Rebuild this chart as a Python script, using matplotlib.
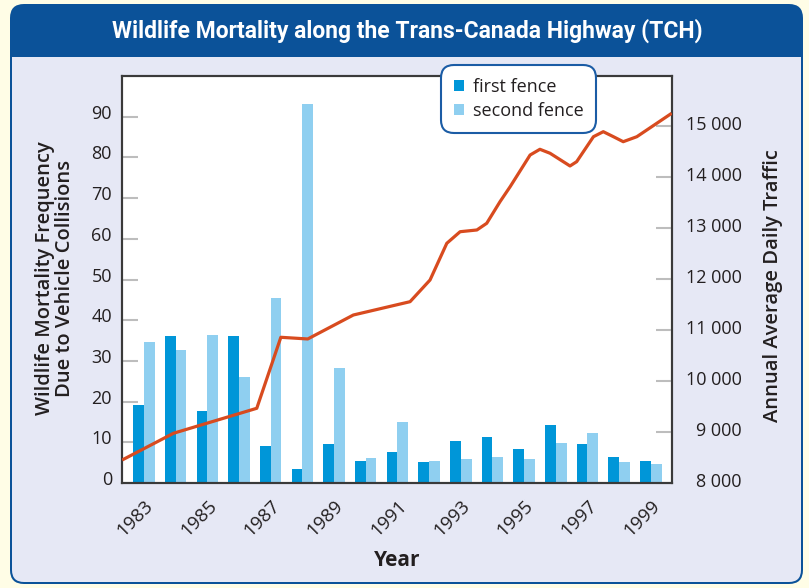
import matplotlib
matplotlib.use("Agg")
import matplotlib.pyplot as plt
from matplotlib.patches import FancyBboxPatch, Rectangle, Patch
from matplotlib.transforms import ScaledTranslation

# ---------------- data ----------------
years = list(range(1983, 2000))
first_fence = [19.2, 36.1, 17.7, 36.1, 9.1, 3.4, 9.6, 5.4, 7.6, 5.2,
               10.3, 11.3, 8.4, 14.3, 9.6, 6.4, 5.4]
second_fence = [34.6, 32.7, 36.4, 26.0, 45.5, 93.1, 28.3, 6.1, 15.0, 5.4,
                5.9, 6.4, 5.9, 9.8, 12.3, 5.2, 4.7]

traffic_year = [1982.31, 1983.93, 1986.56, 1987.32, 1988.17, 1989.61, 1991.40,
                1992.03, 1992.56, 1992.98, 1993.51, 1993.82, 1994.24, 1994.56,
                1995.19, 1995.50, 1995.82, 1996.45, 1996.66, 1997.19, 1997.50,
                1997.82, 1998.13, 1998.56, 1999.66]
traffic_aadt = [8451, 8975, 9465, 10857, 10824, 11294, 11555,
                11980, 12700, 12927, 12961, 13092, 13516, 13810,
                14431, 14543, 14465, 14216, 14300, 14790, 14888,
                14790, 14692, 14790, 15249]

left_ticks = [0, 10, 20, 30, 40, 50, 60, 70, 80, 90]
right_ticks = [8000, 9000, 10000, 11000, 12000, 13000, 14000, 15000]
right_tick_labels = ["8 000", "9 000", "10 000", "11 000", "12 000",
                     "13 000", "14 000", "15 000"]
xtick_years = [1983, 1985, 1987, 1989, 1991, 1993, 1995, 1997, 1999]
series_names = ["first fence", "second fence"]

title = "Wildlife Mortality along the Trans-Canada Highway (TCH)"
left_label = "Wildlife Mortality Frequency\nDue to Vehicle Collisions"
right_label = "Annual Average Daily Traffic"
x_label = "Year"

# ---------------- style ----------------
C_FIRST = "#0096D8"
C_SECOND = "#8FCFF0"
C_LINE = "#D84B1F"
C_BLUE = "#0B5299"
C_PANEL = "#E6E8F5"
C_OUTER = "#FFFDE6"
C_TEXT = "#231F20"
C_TICK = "#BDBDBD"
C_SPINE = "#3A3A3A"
FONT = ["Open Sans", "DejaVu Sans"]

W, H = 809, 588
fig = plt.figure(figsize=(W / 100, H / 100), dpi=100, facecolor=C_OUTER)

def px(x, y):
    return x / W, 1 - y / H

# panel background (inches, origin bottom-left)
t = fig.dpi_scale_trans
outer = FancyBboxPatch((0.10, 0.04), 7.93, 5.80,
                       boxstyle="round,pad=0,rounding_size=0.14",
                       fc=C_BLUE, ec=C_BLUE, lw=0, transform=t, zorder=-10)
inner = FancyBboxPatch((0.12, 0.06), 7.89, 5.42,
                       boxstyle="round,pad=0,rounding_size=0.12",
                       fc=C_PANEL, ec="none", lw=0, transform=t, zorder=-9)
bar_rect = Rectangle((0.10, 5.31), 7.93, 0.25, fc=C_BLUE, ec="none",
                     transform=t, zorder=-8)
for p in (outer, inner, bar_rect):
    fig.add_artist(p)

fig.text(*px(407, 31), title, ha="center", va="center", color="white",
         fontsize=16.5, fontweight="bold", family=["Roboto", "DejaVu Sans"])

# ---------------- axes ----------------
l, r, b, tp = 122, 672, 483, 76
ax = fig.add_axes([l / W, 1 - b / H, (r - l) / W, (b - tp) / H])
ax.set_facecolor("white")
ax2 = ax.twinx()

bw = 0.34
ax.bar([y - bw / 2 for y in years], first_fence, width=bw, color=C_FIRST,
       linewidth=0, zorder=2)
ax.bar([y + bw / 2 for y in years], second_fence, width=bw, color=C_SECOND,
       linewidth=0, zorder=2)
ax.set_xlim(1982.305, 1999.67)
ax.set_ylim(0, 100)
ax.set_yticks(left_ticks)
ax.set_yticklabels([str(v) for v in left_ticks], family=FONT, fontsize=13,
                   color=C_TEXT)
ax.set_xticks(xtick_years)
ax.set_xticklabels([str(v) for v in xtick_years], family=FONT, fontsize=13.5,
                   color=C_TEXT, rotation=45, ha="right", va="top",
                   rotation_mode="anchor")
ax.tick_params(axis="x", length=0, pad=10)
ax.tick_params(axis="y", direction="in", length=11.5, width=1.5,
               color=C_TICK, pad=7.2)

ax2.plot(traffic_year, traffic_aadt, color=C_LINE, lw=2.3,
         solid_joinstyle="round", solid_capstyle="butt", zorder=3)
ax2.set_ylim(8000, 15980)
ax2.set_yticks(right_ticks)
ax2.set_yticklabels(right_tick_labels, family=FONT, fontsize=13, color=C_TEXT)
ax2.tick_params(axis="y", direction="in", length=11.5, width=1.5,
                color=C_TICK, pad=50.4)
for lbl in ax2.get_yticklabels():
    lbl.set_horizontalalignment("right")
    lbl.set_transform(lbl.get_transform() +
                      ScaledTranslation(0, 0.03, fig.dpi_scale_trans))
for lbl in ax.get_yticklabels():
    lbl.set_transform(lbl.get_transform() +
                      ScaledTranslation(0, 0.05, fig.dpi_scale_trans))

for a in (ax, ax2):
    for s in a.spines.values():
        s.set_color(C_SPINE)
        s.set_linewidth(1.5)

# axis titles
fig.text(*px(55, 278), left_label, rotation=90, ha="center", va="center",
         multialignment="center", fontsize=14.5, fontweight="semibold",
         color=C_TEXT, family=FONT, linespacing=1.05)
fig.text(*px(773, 285.5), right_label, rotation=90, ha="center", va="center",
         fontsize=14.5, fontweight="semibold", color=C_TEXT, family=FONT)
fig.text(*px(397, 560), x_label, ha="center", va="center", fontsize=15,
         fontweight="bold", color=C_TEXT, family=FONT)

# legend
handles = [Patch(facecolor=C_FIRST, edgecolor="none"),
           Patch(facecolor=C_SECOND, edgecolor="none")]
leg = fig.legend(handles, series_names, loc="upper left",
                 bbox_to_anchor=px(441, 65), bbox_transform=fig.transFigure,
                 borderaxespad=0, frameon=True, fancybox=True,
                 framealpha=1, prop={"family": FONT, "size": 13},
                 handlelength=0.55, handleheight=0.55, handletextpad=0.5,
                 labelspacing=0.36, borderpad=0.7)
frame = leg.get_frame()
frame.set_edgecolor("#1B5CA5")
frame.set_facecolor("white")
frame.set_linewidth(1.5)
frame.set_boxstyle("round,pad=0,rounding_size=0.7")
for txt in leg.get_texts():
    txt.set_color(C_TEXT)

fig.savefig("out.png", dpi=100, facecolor=C_OUTER)
